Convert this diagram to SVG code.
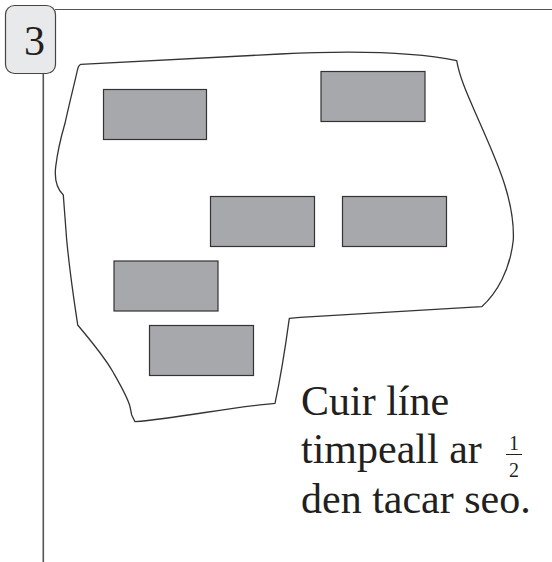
<svg xmlns="http://www.w3.org/2000/svg" width="552" height="562" viewBox="0 0 552 562">
<style>
.tile{fill:#a7a8ab;stroke:#333;stroke-width:1.2}
.txt{font-family:"Liberation Serif","Times New Roman",serif;fill:#231f20}
.rule{stroke:#555;fill:none}
</style>
<rect width="552" height="562" fill="#fff"/>
<g id="frame">
<line class="rule" x1="55" y1="9.5" x2="552" y2="9.5" stroke-width="1"/>
<line class="rule" x1="43.3" y1="73" x2="43.3" y2="562" stroke-width="1.6"/>
</g>
<g id="number">
<rect x="5.5" y="5.5" width="50" height="68" rx="9" fill="#e8e9ea" stroke="#444" stroke-width="1.2"/>
<text class="txt" x="34.5" y="55" font-size="42" text-anchor="middle">3</text>
</g>
<g id="outline">
<path d="M80.7,64.3 Q78,65 76.7,73.3 C74,85 69,105 65,123.3 C61,137 57.5,152 55.7,166.7 C54.5,177 55,187 63.3,195 L66.7,240 C70,275 74,300 77.7,325 C92,342 105,358 113,372 C121,386 128,398 130,406.7 L131.7,415 L135,421.7 C180,418 230,407 275,403.3 C280,380 285,350 289.3,318.3 L300,317.3 L481.7,306.7 C497,293 510,270 513.3,240 C515,200 496,160 480,123.3 C470,100 460,80 456.7,60.7 C420,53 360,50 280,54 Z" fill="none" stroke="#333" stroke-width="1.3" stroke-linejoin="round"/>
</g>
<g id="tile-1"><rect class="tile" x="103.5" y="89.5" width="103" height="50"/></g>
<g id="tile-2"><rect class="tile" x="321" y="71.5" width="104" height="50"/></g>
<g id="tile-3"><rect class="tile" x="210.5" y="196.5" width="104" height="50"/></g>
<g id="tile-4"><rect class="tile" x="342.5" y="196.5" width="104" height="50"/></g>
<g id="tile-5"><rect class="tile" x="114" y="261" width="104" height="50"/></g>
<g id="tile-6"><rect class="tile" x="149.5" y="325.5" width="104" height="50"/></g>
<g id="instruction">
<text class="txt" font-size="42"><tspan x="301" y="415">Cuir líne</tspan><tspan x="301" y="463">timpeall ar</tspan><tspan x="301" y="513">den tacar seo.</tspan></text>
<text class="txt" x="514" y="450" font-size="20" text-anchor="middle">1</text>
<line x1="506" y1="454.5" x2="522" y2="454.5" stroke="#231f20" stroke-width="1"/>
<text class="txt" x="514" y="476.5" font-size="20" text-anchor="middle">2</text>
</g>
</svg>
